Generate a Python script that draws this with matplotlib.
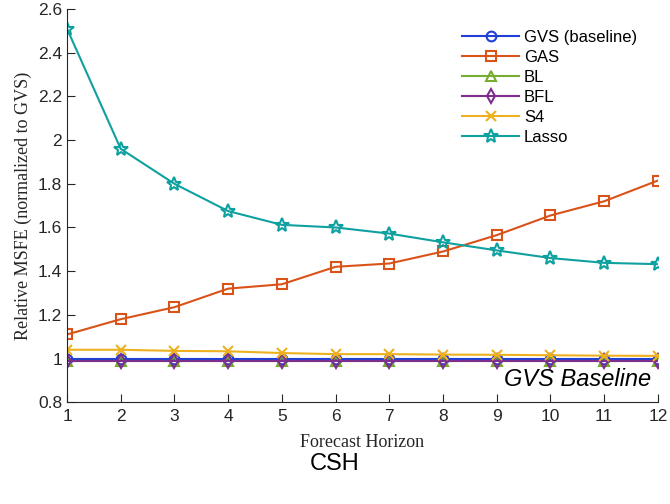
import numpy as np
import matplotlib
matplotlib.use("Agg")
import matplotlib.pyplot as plt

horizon = list(range(1, 13))
gvs = [1.0] * 12
gas = [1.11, 1.18, 1.235, 1.32, 1.34, 1.42, 1.435, 1.49, 1.565, 1.655, 1.72, 1.815]
bl = [0.99] * 12
bfl = [0.99] * 12
s4 = [1.04, 1.04, 1.035, 1.033, 1.025, 1.02, 1.02, 1.018, 1.017, 1.015, 1.013, 1.012]
lasso = [2.51, 1.96, 1.80, 1.675, 1.612, 1.60, 1.572, 1.532, 1.495, 1.46, 1.438, 1.432]

fig = plt.figure(figsize=(6.7, 5.04), dpi=100)
ax = fig.add_axes([0.1, 0.202, 0.882, 0.78])

sans = ['Liberation Sans', 'DejaVu Sans']
serif = ['Liberation Serif', 'DejaVu Serif']

ax.plot(horizon, [1.0] * 12, '--', color='black', lw=1.0, zorder=1)
ax.plot(horizon, gvs, '-o', color='#1f3fd6', lw=1.5, ms=7, mfc='none', mew=1.5, label='GVS (baseline)')
ax.plot(horizon, gas, '-s', color='#D95319', lw=1.5, ms=7, mfc='none', mew=1.5, label='GAS')
ax.plot(horizon, bl, '-^', color='#77AC30', lw=1.5, ms=7, mfc='none', mew=1.5, label='BL')
ax.plot(horizon, bfl, '-d', color='#7E2F8E', lw=1.5, ms=7, mfc='none', mew=1.5, label='BFL')
ax.plot(horizon, s4, '-x', color='#EDB120', lw=1.5, ms=7, mew=1.5, label='S4')
ax.plot(horizon, lasso, '-*', color='#0fa0a0', lw=1.5, ms=10, mfc='none', mew=1.5, label='Lasso')

ax.set_xlim(1, 12)
ax.set_ylim(0.8, 2.6)
ax.set_xticks(horizon)
ax.set_yticks(np.arange(0.8, 2.61, 0.2))
ax.set_yticklabels(['0.8', '1', '1.2', '1.4', '1.6', '1.8', '2', '2.2', '2.4', '2.6'])
ax.tick_params(direction='in', length=6, labelsize=12.5, colors='#262626', width=0.8)
ax.tick_params(axis='x', pad=5)
for lab in ax.get_xticklabels() + ax.get_yticklabels():
    lab.set_family(sans)
ax.spines['top'].set_visible(False)
ax.spines['right'].set_visible(False)
ax.spines['left'].set_color('#262626')
ax.spines['bottom'].set_color('#262626')

ax.set_xlabel('Forecast Horizon', family=serif, fontsize=13, color='#262626', labelpad=7)
ax.set_ylabel('Relative MSFE (normalized to GVS)', family=serif, fontsize=13, color='#262626')

ax.text(11.88, 0.905, 'GVS Baseline', family=sans, fontsize=17, style='italic', ha='right', va='center')

leg = ax.legend(loc='upper right', bbox_to_anchor=(0.99, 0.985), frameon=False,
                prop={'family': sans, 'size': 12}, handlelength=3.4, labelspacing=0.3,
                handletextpad=0.3)

fig.text(0.5, 0.08, 'CSH', family=sans, fontsize=17, ha='center', va='center')

fig.savefig('out.png', dpi=100)
